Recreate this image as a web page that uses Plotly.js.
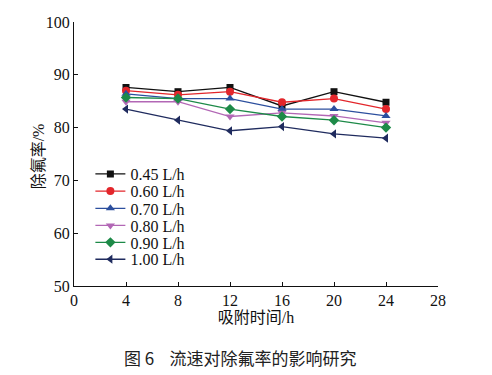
<!DOCTYPE html>
<html><head><meta charset="utf-8">
<script src="https://cdn.plot.ly/plotly-3.0.1.min.js"></script>
<style>html,body{margin:0;padding:0;background:#fff;}#c{width:492px;height:375px;}</style>
</head><body><div id="c"></div>
<script>
const hours = [4, 8, 12, 16, 20, 24];
const seriesNames = ["0.45 L/h", "0.60 L/h", "0.70 L/h", "0.80 L/h", "0.90 L/h", "1.00 L/h"];
const s045 = [87.6, 86.8, 87.6, 84.1, 86.8, 84.8];
const s060 = [87.0, 86.2, 86.8, 84.8, 85.5, 83.5];
const s070 = [86.4, 85.5, 85.5, 83.5, 83.5, 82.2];
const s080 = [84.9, 84.9, 82.1, 82.8, 82.2, 80.9];
const s090 = [85.7, 85.5, 83.5, 82.1, 81.4, 80.0];
const s100 = [83.5, 81.4, 79.4, 80.2, 78.8, 78.0];
const xTicks = [0, 4, 8, 12, 16, 20, 24, 28];
const yTicks = [50, 60, 70, 80, 90, 100];

const allSeries = [s045, s060, s070, s080, s090, s100];
const colors = ["#111111", "#e3262b", "#2c4f9e", "#b267b5", "#1d8a48", "#1f2b5e"];
const symbols = ["square", "circle", "triangle-up", "triangle-down", "diamond", "triangle-left"];
const sizes = [7, 8, 8, 8, 8, 8];
const legendY = [0.424, 0.359, 0.294, 0.229, 0.165, 0.101];

const serif = "'Liberation Serif', 'Times New Roman', 'Noto Sans CJK SC', serif";
const traces = allSeries.map((ys, i) => ({
  x: hours, y: ys, name: seriesNames[i], type: "scatter", mode: "lines+markers",
  legend: i === 0 ? "legend" : "legend" + (i + 1),
  line: {color: colors[i], width: 1.3},
  marker: {color: colors[i], symbol: symbols[i], size: sizes[i]}
}));

const layout = {
  width: 492, height: 375,
  margin: {l: 74, r: 54, t: 22, b: 89},
  paper_bgcolor: "#fff", plot_bgcolor: "#fff",
  showlegend: true,
  font: {family: serif, color: "#111", size: 16},
  xaxis: {
    range: [0, 28], tickvals: xTicks, ticktext: xTicks.map(String),
    showgrid: false, zeroline: false, showline: true, linecolor: "#111", linewidth: 1,
    ticks: "inside", ticklen: 4, tickcolor: "#111",
    tickfont: {family: serif, size: 16},
    title: {text: "吸附时间/h", font: {family: serif, size: 16}, standoff: 0}
  },
  yaxis: {
    range: [50, 100], tickvals: yTicks,
    showgrid: false, zeroline: false, showline: true, linecolor: "#111", linewidth: 1,
    ticks: "inside", ticklen: 4, tickcolor: "#111",
    tickfont: {family: serif, size: 16}
  },
  annotations: [{
    text: "除氟率/%", xref: "paper", yref: "paper",
    x: -0.097, y: 0.49, xanchor: "center", yanchor: "middle", textangle: -90, showarrow: false,
    font: {family: serif, size: 16, color: "#111"}
  }, {
    text: "图 6    流速对除氟率的影响研究", xref: "paper", yref: "paper",
    x: 0.455, y: -0.272, xanchor: "center", yanchor: "middle", showarrow: false,
    font: {family: "'Noto Sans CJK SC', sans-serif", size: 17, color: "#222"}
  }]
};
legendY.forEach((y, i) => {
  const key = i === 0 ? "legend" : "legend" + (i + 1);
  layout[key] = {
    x: 0.045, y: y, xanchor: "left", yanchor: "middle",
    bgcolor: "rgba(0,0,0,0)", borderwidth: 0,
    font: {family: serif, size: 16, color: "#111"},
    itemwidth: 30
  };
});
Plotly.newPlot("c", traces, layout, {displayModeBar: false, staticPlot: true});
</script></body></html>
